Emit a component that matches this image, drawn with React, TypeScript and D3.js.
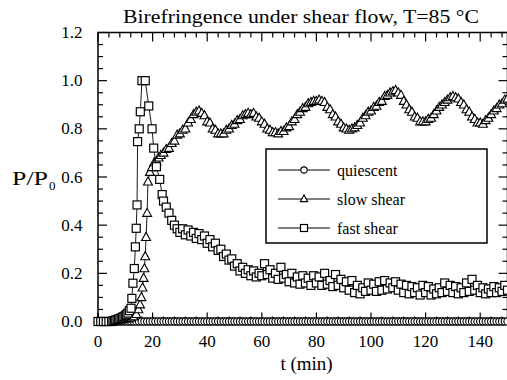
import React from "react";
import * as d3 from "d3";

const xTicks = [0, 20, 40, 60, 80, 100, 120, 140];
const yTicks = [0, 0.2, 0.4, 0.6, 0.8, 1.0, 1.2];

const quiescentT = [
  0, 1, 2, 3, 4, 5, 6, 7, 8, 9, 10, 11, 12, 13, 14, 15, 16, 17, 18, 19, 20, 21, 22, 23, 24, 25, 26, 27, 28, 29,
  30, 31, 32, 33, 34, 35, 36, 37, 38, 39, 40, 41, 42, 43, 44, 45, 46, 47, 48, 49, 50, 51, 52, 53, 54, 55, 56, 57, 58, 59,
  60, 61, 62, 63, 64, 65, 66, 67, 68, 69, 70, 71, 72, 73, 74, 75, 76, 77, 78, 79, 80, 81, 82, 83, 84, 85, 86, 87, 88, 89,
  90, 91, 92, 93, 94, 95, 96, 97, 98, 99, 100, 101, 102, 103, 104, 105, 106, 107, 108, 109, 110, 111, 112, 113, 114, 115, 116, 117, 118, 119,
  120, 121, 122, 123, 124, 125, 126, 127, 128, 129, 130, 131, 132, 133, 134, 135, 136, 137, 138, 139, 140, 141, 142, 143, 144, 145, 146, 147, 148, 149, 150,
];
const quiescentP = [
  0, 0, 0, 0, 0, 0, 0, 0, 0, 0, 0, 0, 0, 0, 0, 0, 0, 0, 0, 0, 0, 0, 0, 0, 0, 0, 0, 0, 0, 0,
  0, 0, 0, 0, 0, 0, 0, 0, 0, 0, 0, 0, 0, 0, 0, 0, 0, 0, 0, 0, 0, 0, 0, 0, 0, 0, 0, 0, 0, 0,
  0, 0, 0, 0, 0, 0, 0, 0, 0, 0, 0, 0, 0, 0, 0, 0, 0, 0, 0, 0, 0, 0, 0, 0, 0, 0, 0, 0, 0, 0,
  0, 0, 0, 0, 0, 0, 0, 0, 0, 0, 0, 0, 0, 0, 0, 0, 0, 0, 0, 0, 0, 0, 0, 0, 0, 0, 0, 0, 0, 0,
  0, 0, 0, 0, 0, 0, 0, 0, 0, 0, 0, 0, 0, 0, 0, 0, 0, 0, 0, 0, 0, 0, 0, 0, 0, 0, 0, 0, 0, 0, 0,
];

const slowT = [
  5, 6, 7, 8, 9, 10, 11, 12, 13, 14, 14.8, 15.4, 15.9, 16.3, 16.7, 17.0, 17.3, 17.6, 18.0, 18.3,
  19, 19.8, 20.6, 21.4, 22.2, 23, 24, 25, 26, 27, 28, 29, 30, 31, 32, 33, 34, 35, 36, 37, 38, 39,
  40, 41, 42, 43, 44, 45, 46, 47, 48, 49, 50, 51, 52, 53, 54, 55, 56, 57, 58, 59,
  60, 61, 62, 63, 64, 65, 66, 67, 68, 69, 70, 71, 72, 73, 74, 75, 76, 77, 78, 79,
  80, 81, 82, 83, 84, 85, 86, 87, 88, 89, 90, 91, 92, 93, 94, 95, 96, 97, 98, 99,
  100, 101, 102, 103, 104, 105, 106, 107, 108, 109, 110, 111, 112, 113, 114, 115, 116, 117, 118, 119,
  120, 121, 122, 123, 124, 125, 126, 127, 128, 129, 130, 131, 132, 133, 134, 135, 136, 137, 138, 139,
  140, 141, 142, 143, 144, 145, 146, 147, 148, 149, 150,
];
const slowP = [
  0, 0.002, 0.004, 0.006, 0.008, 0.01, 0.012, 0.015, 0.02, 0.03, 0.05, 0.07, 0.1, 0.14, 0.18, 0.22, 0.27, 0.35, 0.45, 0.58,
  0.62, 0.64, 0.66, 0.665, 0.68, 0.69, 0.70, 0.715, 0.72, 0.74, 0.75, 0.775, 0.78, 0.795, 0.80, 0.825, 0.84, 0.86, 0.87, 0.875, 0.865, 0.855,
  0.83, 0.825, 0.80, 0.795, 0.78, 0.78, 0.78, 0.795, 0.80, 0.815, 0.82, 0.835, 0.84, 0.855, 0.86, 0.865, 0.86, 0.865, 0.85, 0.845,
  0.83, 0.82, 0.80, 0.795, 0.785, 0.785, 0.78, 0.79, 0.79, 0.805, 0.81, 0.83, 0.84, 0.86, 0.87, 0.885, 0.89, 0.905, 0.91, 0.915,
  0.915, 0.92, 0.915, 0.91, 0.89, 0.88, 0.86, 0.85, 0.83, 0.82, 0.805, 0.80, 0.795, 0.80, 0.805, 0.815, 0.825, 0.845, 0.855, 0.87,
  0.875, 0.89, 0.895, 0.91, 0.915, 0.935, 0.94, 0.95, 0.955, 0.96, 0.95, 0.94, 0.915, 0.90, 0.88, 0.87, 0.85, 0.845, 0.83, 0.83,
  0.83, 0.84, 0.845, 0.86, 0.875, 0.89, 0.90, 0.91, 0.92, 0.93, 0.935, 0.93, 0.925, 0.91, 0.90, 0.88, 0.87, 0.85, 0.84, 0.825,
  0.825, 0.82, 0.835, 0.845, 0.86, 0.875, 0.885, 0.90, 0.905, 0.92, 0.925,
];

const fastT = [
  0, 1, 2, 3, 4, 5, 5.5, 6, 6.5, 7, 7.5, 8, 8.5, 9, 9.5, 10, 10.5, 11, 11.5, 12.1, 12.4, 12.8, 13.3, 13.7, 14.0, 14.3,
  14.5, 15.1, 15.5, 16.1, 17.3, 18.6, 19.8, 20.4, 21.4, 22.6, 23.5,
  24, 25, 26, 27, 28, 29, 30, 31, 32, 33, 34, 35, 36, 37, 38, 39,
  40, 41, 42, 43, 44, 45, 46, 47, 48, 49, 50, 51, 52, 53, 54, 55, 56, 57, 58, 59,
  60, 61, 62, 63, 64, 65, 66, 67, 68, 69, 70, 71, 72, 73, 74, 75, 76, 77, 78, 79,
  80, 81, 82, 83, 84, 85, 86, 87, 88, 89, 90, 91, 92, 93, 94, 95, 96, 97, 98, 99,
  100, 101, 102, 103, 104, 105, 106, 107, 108, 109, 110, 111, 112, 113, 114, 115, 116, 117, 118, 119,
  120, 121, 122, 123, 124, 125, 126, 127, 128, 129, 130, 131, 132, 133, 134, 135, 136, 137, 138, 139,
  140, 141, 142, 143, 144, 145, 146, 147, 148, 149, 150,
];
const fastP = [
  0, 0, 0, 0, 0, 0, 0.002, 0.004, 0.006, 0.008, 0.01, 0.012, 0.015, 0.018, 0.02, 0.025, 0.03, 0.035, 0.045, 0.055, 0.096, 0.159, 0.22, 0.31, 0.387, 0.484,
  0.747, 0.80, 0.871, 1.0, 1.0, 0.895, 0.80, 0.72, 0.643, 0.59, 0.527,
  0.50, 0.475, 0.45, 0.42, 0.40, 0.385, 0.37, 0.385, 0.36, 0.38, 0.355, 0.37, 0.345, 0.365, 0.34, 0.355,
  0.325, 0.34, 0.31, 0.325, 0.295, 0.30, 0.27, 0.28, 0.255, 0.26, 0.23, 0.24, 0.21, 0.225, 0.2, 0.215, 0.19, 0.21, 0.185, 0.2,
  0.19, 0.24, 0.195, 0.215, 0.18, 0.2, 0.175, 0.225, 0.18, 0.195, 0.165, 0.2, 0.16, 0.185, 0.155, 0.19, 0.16, 0.18, 0.15, 0.19,
  0.16, 0.185, 0.15, 0.2, 0.155, 0.17, 0.145, 0.195, 0.15, 0.175, 0.14, 0.165, 0.13, 0.17, 0.12, 0.15, 0.115, 0.14, 0.125, 0.16,
  0.13, 0.155, 0.125, 0.165, 0.13, 0.17, 0.135, 0.16, 0.14, 0.165, 0.13, 0.155, 0.12, 0.15, 0.115, 0.145, 0.12, 0.14, 0.11, 0.15,
  0.12, 0.145, 0.11, 0.135, 0.115, 0.14, 0.12, 0.16, 0.125, 0.15, 0.12, 0.145, 0.115, 0.14, 0.12, 0.16, 0.125, 0.175, 0.13, 0.15,
  0.12, 0.14, 0.115, 0.135, 0.12, 0.145, 0.12, 0.14, 0.125, 0.15, 0.13,
];

const legendLabels = ["quiescent", "slow shear", "fast shear"];

const FONT =
  '"Liberation Serif", "Times New Roman", Times, "Noto Serif", "DejaVu Serif", serif';

function zip(t: number[], p: number[]): [number, number][] {
  return t.map((v, i) => [v, p[i]] as [number, number]);
}

function Marker({ kind, cx, cy, s }: { kind: string; cx: number; cy: number; s: number }) {
  if (kind === "circle") {
    return <circle cx={cx} cy={cy} r={s * 0.45} fill="white" stroke="black" strokeWidth={1.1} />;
  }
  if (kind === "triangle") {
    const h = s * 0.95;
    const w = s * 1.05;
    const pts = `${cx},${cy - h * 0.6} ${cx - w / 2},${cy + h * 0.4} ${cx + w / 2},${cy + h * 0.4}`;
    return <polygon points={pts} fill="white" stroke="black" strokeWidth={1.1} />;
  }
  return (
    <rect x={cx - s / 2} y={cy - s / 2} width={s} height={s} fill="white" stroke="black" strokeWidth={1.2} />
  );
}

export default function App() {
  const W = 507;
  const H = 380;
  const x = d3.scaleLinear().domain([0, 150]).range([98, 507.5]);
  const y = d3.scaleLinear().domain([0, 1.2]).range([321.5, 32.5]);

  const line = d3
    .line<[number, number]>()
    .x((d) => x(d[0]))
    .y((d) => y(d[1]));

  const series = [
    { kind: "circle", data: zip(quiescentT, quiescentP), size: 8 },
    { kind: "triangle", data: zip(slowT, slowP), size: 8.5 },
    { kind: "square", data: zip(fastT, fastP), size: 8 },
  ];

  const [x0, x1] = x.range();
  const [y0, y1] = y.range();
  const xMinor: number[] = [];
  for (let v = 0; v <= 150; v += 4) if (v % 20 !== 0) xMinor.push(v);
  const yMinor: number[] = [];
  for (let k = 0; k <= 24; k++) if (k % 4 !== 0) yMinor.push(k * 0.05);

  const MAJ = 9;
  const MIN = 5;
  const ts = { fontFamily: FONT };

  return (
    <svg
      width={W}
      height={H}
      style={{ position: "absolute", left: 0, top: 0, background: "white", fontFamily: FONT }}
    >
      <rect x={0} y={0} width={W} height={H} fill="white" />
      <text style={ts} x={301} y={23} fontSize={19} textAnchor="middle" textLength={356} lengthAdjust="spacingAndGlyphs">
        Birefringence under shear flow, T=85 °C
      </text>

      {/* ticks */}
      <g stroke="black" strokeWidth={1.2}>
        {xTicks.map((t) => (
          <g key={"xt" + t}>
            <line x1={x(t)} x2={x(t)} y1={y0} y2={y0 - MAJ} />
            <line x1={x(t)} x2={x(t)} y1={y1} y2={y1 + MAJ} />
          </g>
        ))}
        {xMinor.map((t) => (
          <g key={"xm" + t}>
            <line x1={x(t)} x2={x(t)} y1={y0} y2={y0 - MIN} />
            <line x1={x(t)} x2={x(t)} y1={y1} y2={y1 + MIN} />
          </g>
        ))}
        {yTicks.map((v) => (
          <g key={"yt" + v}>
            <line x1={x0} x2={x0 + MAJ} y1={y(v)} y2={y(v)} />
            <line x1={x1} x2={x1 - MAJ} y1={y(v)} y2={y(v)} />
          </g>
        ))}
        {yMinor.map((v) => (
          <g key={"ym" + v}>
            <line x1={x0} x2={x0 + MIN} y1={y(v)} y2={y(v)} />
            <line x1={x1} x2={x1 - MIN} y1={y(v)} y2={y(v)} />
          </g>
        ))}
      </g>
      <rect x={x0} y={y1} width={x1 - x0} height={y0 - y1} fill="none" stroke="black" strokeWidth={1.5} />

      {/* tick labels */}
      {xTicks.map((t) => (
        <text style={ts} key={"xl" + t} x={x(t)} y={347} fontSize={17} textAnchor="middle">
          {t}
        </text>
      ))}
      {yTicks.map((v) => (
        <text style={ts} key={"yl" + v} x={82.5} y={y(v) + 5.5} fontSize={17} textAnchor="end">
          {d3.format(".1f")(v)}
        </text>
      ))}

      {/* axis titles */}
      <text style={ts} x={306.5} y={370} fontSize={19} textAnchor="middle">
        t (min)
      </text>
      <text style={ts} x={12} y={185} fontSize={19} textLength={36} lengthAdjust="spacingAndGlyphs">
        P/P
      </text>
      <text style={ts} x={49} y={190} fontSize={13}>
        0
      </text>

      {/* data */}
      {series.map((s, si) => (
        <g key={"s" + si}>
          <path d={line(s.data) || ""} fill="none" stroke="black" strokeWidth={0.9} />
          {s.data.map((d, i) => (
            <Marker key={i} kind={s.kind} cx={x(d[0])} cy={y(d[1])} s={s.size} />
          ))}
        </g>
      ))}

      {/* legend */}
      <rect x={266} y={149} width={221} height={94} fill="white" stroke="black" strokeWidth={1.5} />
      {legendLabels.map((lab, i) => {
        const ly = 170 + i * 29;
        const kind = series[i].kind;
        return (
          <g key={"lg" + i}>
            <line x1={278} x2={330} y1={ly} y2={ly} stroke="black" strokeWidth={1} />
            <Marker kind={kind} cx={304} cy={ly} s={7} />
            <text style={ts} x={337} y={ly + 6} fontSize={16}>
              {lab}
            </text>
          </g>
        );
      })}
    </svg>
  );
}
